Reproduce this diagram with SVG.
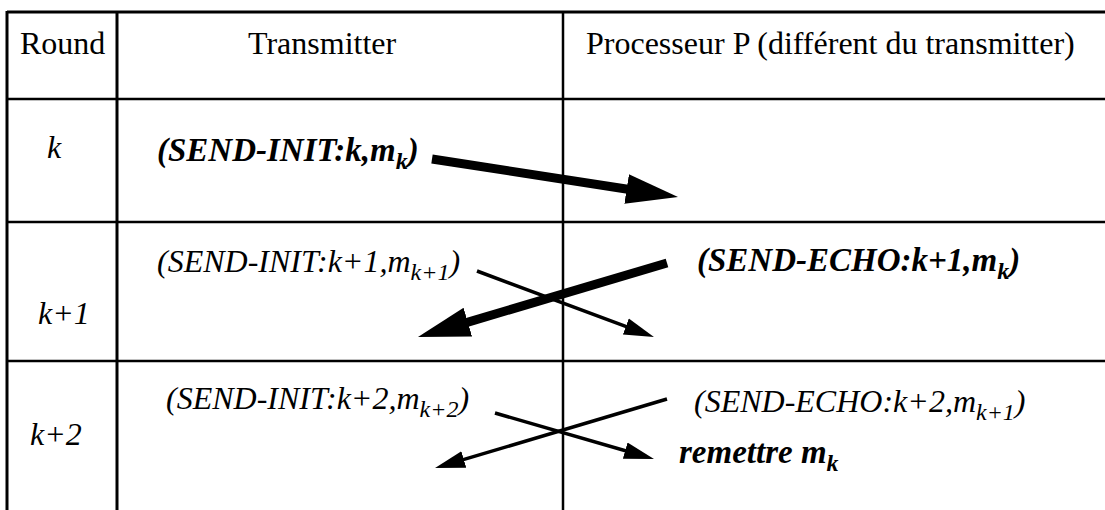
<svg xmlns="http://www.w3.org/2000/svg" width="1105" height="510" viewBox="0 0 1105 510">
<style>
  .grid { stroke: #000; fill: none; }
  .b3 { stroke-width: 3; }
  .b2 { stroke-width: 2.5; }
  .hdr { font-family: "Liberation Serif", "Times New Roman", serif; font-size: 32px; fill: #000; }
  .it { font-family: "Liberation Serif", "Times New Roman", serif; font-size: 32px; font-style: italic; fill: #000; }
  .bi { font-family: "Liberation Serif", "Times New Roman", serif; font-size: 33px; font-style: italic; font-weight: bold; fill: #000; }
  .sub { font-size: 24px; }
  .thick { stroke: #000; stroke-width: 9; fill: none; }
  .thin { stroke: #000; stroke-width: 3.5; fill: none; }
</style>
<defs>
  <marker id="headThick" markerUnits="userSpaceOnUse" orient="auto" markerWidth="54" markerHeight="32" viewBox="0 -16 54 32" refX="20.8" refY="0">
    <path d="M0,-15 L52,0 L0,15 Z" fill="#000"/>
  </marker>
  <marker id="headThin" markerUnits="userSpaceOnUse" orient="auto" markerWidth="32" markerHeight="20" viewBox="0 -10 32 20" refX="12" refY="0">
    <path d="M0,-8.5 L30,0 L0,8.5 Z" fill="#000"/>
  </marker>
</defs>
<rect x="0" y="0" width="1105" height="510" fill="#fff"/>
<g id="table" class="grid">
  <line class="b3" x1="7" y1="12" x2="1105" y2="12"/>
  <line class="b3" x1="7" y1="11" x2="7" y2="510"/>
  <line class="b3" x1="117" y1="11" x2="117" y2="510"/>
  <line class="b2" x1="563" y1="11" x2="563" y2="510"/>
  <line class="b2" x1="7" y1="99" x2="1105" y2="99"/>
  <line class="b2" x1="7" y1="222" x2="1105" y2="222"/>
  <line class="b2" x1="7" y1="361" x2="1105" y2="361"/>
</g>
<g id="headers">
  <text class="hdr" x="20" y="54">Round</text>
  <text class="hdr" x="248" y="54">Transmitter</text>
  <text class="hdr" x="586" y="54">Processeur P (différent du transmitter)</text>
</g>
<g id="round-labels">
  <text class="it" x="47" y="158">k</text>
  <text class="it" x="38" y="324">k+1</text>
  <text class="it" x="30" y="445">k+2</text>
</g>
<g id="msg-init-k">
  <text class="bi" x="157" y="161">(SEND-INIT:k,m<tspan class="sub" dy="8">k</tspan><tspan dy="-8">)</tspan></text>
</g>
<g id="msg-init-k1">
  <text class="it" x="157" y="272">(SEND-INIT:k+1,m<tspan class="sub" dy="8">k+1</tspan><tspan dy="-8">)</tspan></text>
</g>
<g id="msg-echo-k1">
  <text class="bi" x="697" y="271">(SEND-ECHO:k+1,m<tspan class="sub" dy="8">k</tspan><tspan dy="-8">)</tspan></text>
</g>
<g id="msg-init-k2">
  <text class="it" x="166" y="409">(SEND-INIT:k+2,m<tspan class="sub" dy="8">k+2</tspan><tspan dy="-8">)</tspan></text>
</g>
<g id="msg-echo-k2">
  <text class="it" x="694" y="412">(SEND-ECHO:k+2,m<tspan class="sub" dy="8">k+1</tspan><tspan dy="-8">)</tspan></text>
</g>
<g id="deliver">
  <text class="bi" x="679" y="463">remettre m<tspan class="sub" dy="8">k</tspan></text>
</g>
<g id="connectors">
  <line class="thick" x1="432" y1="159" x2="647.2" y2="192.2" marker-end="url(#headThick)"/>
  <line class="thick" x1="667" y1="263" x2="447.9" y2="328.1" marker-end="url(#headThick)"/>
  <line class="thin" x1="477" y1="271" x2="637.1" y2="330.7" marker-end="url(#headThin)"/>
  <line class="thin" x1="495" y1="413" x2="636.7" y2="454" marker-end="url(#headThin)"/>
  <line class="thin" x1="667" y1="399" x2="452.3" y2="462.9" marker-end="url(#headThin)"/>
</g>
</svg>
